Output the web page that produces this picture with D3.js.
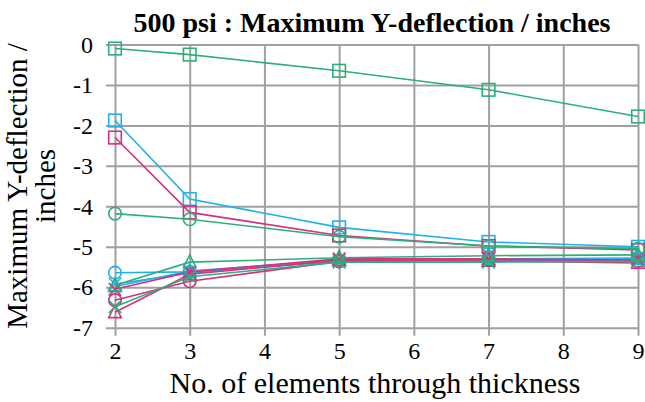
<!DOCTYPE html>
<html>
<head>
<meta charset="utf-8">
<script src="https://cdn.jsdelivr.net/npm/d3@7"></script>
<style>
  html, body { margin: 0; padding: 0; background: #fff; }
  svg { display: block; }
  svg text { fill: #000; }
</style>
</head>
<body>
<svg id="chart" width="645" height="402"></svg>
<script>
// Elements through thickness
const elements = [2, 3, 5, 7, 9];
const xTicks = [2, 3, 4, 5, 6, 7, 8, 9];
const yTicks = [0, -1, -2, -3, -4, -5, -6, -7];

// Maximum Y-deflection (inches) per configuration
const greenSquare    = [-0.10, -0.25, -0.65, -1.12, -1.78];
const cyanSquare     = [-1.88, -3.82, -4.52, -4.88, -5.00];
const magentaSquare  = [-2.30, -4.15, -4.72, -4.98, -5.08];
const greenCircle    = [-4.18, -4.32, -4.75, -4.98, -5.05];
const cyanCircle     = [-5.64, -5.62, -5.36, -5.30, -5.28];
const magentaCircle  = [-6.32, -5.85, -5.36, -5.32, -5.35];
const greenTriangle  = [-5.95, -5.38, -5.27, -5.22, -5.20];
const cyanTriangle   = [-5.98, -5.60, -5.33, -5.30, -5.30];
const magentaTriangle= [-6.62, -5.68, -5.33, -5.35, -5.40];
const greenCross     = [-6.48, -5.74, -5.38, -5.38, -5.36];
const cyanCross      = [-5.92, -5.65, -5.34, -5.32, -5.32];
const magentaCross   = [-6.05, -5.62, -5.30, -5.30, -5.33];

const GREEN = "#2bb07a", CYAN = "#1fb1ec", MAGENTA = "#d6307f";
const FONT = "Liberation Serif, Tinos, Times New Roman, Times, DejaVu Serif, serif";

const series = [
  { values: greenSquare,     color: GREEN,   marker: "square" },
  { values: cyanSquare,      color: CYAN,    marker: "square" },
  { values: magentaSquare,   color: MAGENTA, marker: "square" },
  { values: greenCircle,     color: GREEN,   marker: "circle" },
  { values: cyanCircle,      color: CYAN,    marker: "circle" },
  { values: magentaCircle,   color: MAGENTA, marker: "circle" },
  { values: cyanTriangle,    color: CYAN,    marker: "triangle" },
  { values: cyanCross,       color: CYAN,    marker: "cross" },
  { values: magentaCross,    color: MAGENTA, marker: "cross" },
  { values: magentaTriangle, color: MAGENTA, marker: "triangle" },
  { values: greenCross,      color: GREEN,   marker: "cross" },
  { values: greenTriangle,   color: GREEN,   marker: "triangle" }
];

const svg = d3.select("#chart").style("font-family", FONT);
const margin = { left: 115, right: 7, top: 44.5, bottom: 74.3 };
const W = 645, H = 402;

const x = d3.scaleLinear().domain([2, 9]).range([margin.left, W - margin.right]);
const y = d3.scaleLinear().domain([-7, 0]).range([H - margin.bottom, margin.top]);

const GRID = "#a0a0a0";

// Horizontal gridlines with outward tick stubs
const yAxis = d3.axisLeft(y).tickValues(yTicks).tickSize(x(9) - x(2) + 9)
  .tickSizeOuter(0).tickPadding(13).tickFormat(d => d === 0 ? "0" : "-" + Math.abs(d));
const gy = svg.append("g").attr("transform", `translate(${x(9)},0)`).call(yAxis);
gy.attr("font-family", null).style("font-family", FONT);
gy.select(".domain").remove();
gy.selectAll("line").attr("stroke", GRID).attr("stroke-width", 2);
gy.selectAll("text").attr("font-size", 24).style("font-family", FONT);

// Vertical gridlines with outward tick stubs
const xAxis = d3.axisBottom(x).tickValues(xTicks).tickSize(y(-7) - y(0) + 8)
  .tickSizeOuter(0).tickPadding(6).tickFormat(d3.format("d"));
const gx = svg.append("g").attr("transform", `translate(0,${y(0)})`).call(xAxis);
gx.attr("font-family", null).style("font-family", FONT);
gx.select(".domain").remove();
gx.selectAll("line").attr("stroke", GRID).attr("stroke-width", 2);
gx.selectAll("text").attr("font-size", 24).style("font-family", FONT);

// Series lines and markers
const line = d3.line().x((d, i) => x(elements[i])).y(d => y(d));
const S = 6.3;
function drawMarker(g, type, cx, cy, color) {
  const m = g.append("g").attr("fill", "none").attr("stroke", color).attr("stroke-width", 1.6);
  if (type === "square") {
    m.append("rect").attr("x", cx - S).attr("y", cy - S).attr("width", 2 * S).attr("height", 2 * S);
  } else if (type === "circle") {
    m.append("circle").attr("cx", cx).attr("cy", cy).attr("r", S);
  } else if (type === "triangle") {
    m.append("path").attr("d", `M${cx},${cy - S - 1}L${cx + S},${cy + S - 1}L${cx - S},${cy + S - 1}Z`);
  } else {
    m.append("path").attr("d", `M${cx - S},${cy - S}L${cx + S},${cy + S}M${cx + S},${cy - S}L${cx - S},${cy + S}`);
  }
}

series.forEach(s => {
  const g = svg.append("g");
  g.append("path").datum(s.values).attr("d", line)
    .attr("fill", "none").attr("stroke", s.color).attr("stroke-width", 1.6);
  s.values.forEach((v, i) => drawMarker(g, s.marker, x(elements[i]), y(v), s.color));
});

// Title and axis titles
svg.append("text").attr("x", 372).attr("y", 32).attr("text-anchor", "middle")
  .style("font-family", FONT).attr("font-size", 28).attr("font-weight", "bold")
  .text("500 psi : Maximum Y-deflection / inches");

svg.append("text").attr("x", 375).attr("y", 393).attr("text-anchor", "middle")
  .style("font-family", FONT).attr("font-size", 30).text("No. of elements through thickness");

const yt = svg.append("text").attr("transform", "translate(0,186) rotate(-90)")
  .attr("text-anchor", "middle").style("font-family", FONT).attr("font-size", 29);
yt.append("tspan").attr("x", 0).attr("y", 27).text("Maximum Y-deflection /");
yt.append("tspan").attr("x", 0).attr("y", 55).text("inches");
</script>
</body>
</html>
